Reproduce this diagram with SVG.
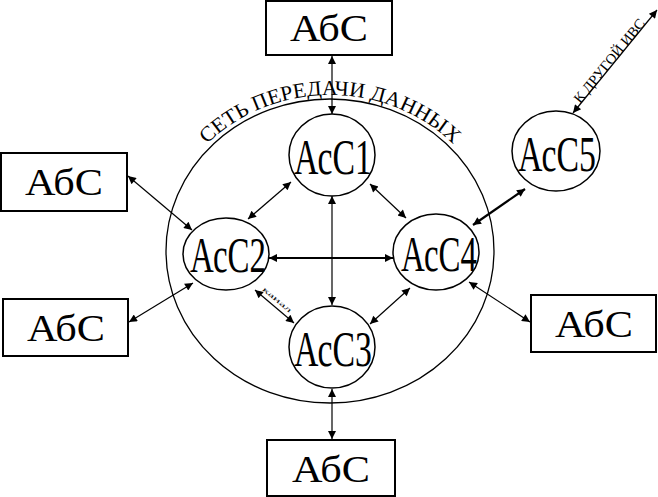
<svg xmlns="http://www.w3.org/2000/svg" width="658" height="497" viewBox="0 0 658 497">
<style>
.box{fill:#fff;stroke:#000;stroke-width:2}
.node{fill:#fff;stroke:#000;stroke-width:1.5}
.bt{font-family:"Liberation Serif","Times New Roman",serif;font-size:38px;fill:#000;text-anchor:middle}
.nt{font-family:"Liberation Serif","Times New Roman",serif;font-size:50px;fill:#000;text-anchor:middle}
.ln{stroke:#000;stroke-width:1.2;fill:none;marker-start:url(#a);marker-end:url(#a)}
.thick{stroke-width:2.2}
.lbl{font-family:"Liberation Serif","Times New Roman",serif;fill:#000}
</style>
<defs>
<marker id="a" viewBox="0 0 10 10" refX="10" refY="5" markerWidth="10" markerHeight="8" markerUnits="userSpaceOnUse" orient="auto-start-reverse">
<path d="M0,0 L10,5 L0,10 z" fill="#000"/>
</marker>
<path id="arc" d="M 161,251 A 169 156 0 0 1 499,251"/>
</defs>
<rect width="658" height="497" fill="#fff"/>
<g id="network">
<ellipse cx="330" cy="251" rx="164" ry="152" fill="none" stroke="#000" stroke-width="1.3"/>
<text class="lbl" font-size="21"><textPath href="#arc" startOffset="50%" text-anchor="middle" textLength="272" lengthAdjust="spacingAndGlyphs">СЕТЬ ПЕРЕДАЧИ ДАННЫХ</textPath></text>
</g>
<g id="connectors">
<line class="ln" x1="332" y1="56" x2="332" y2="114"/>
<line class="ln" x1="332" y1="196" x2="332" y2="305"/>
<line class="ln thick" x1="269" y1="258" x2="393" y2="258"/>
<line class="ln" x1="291" y1="182" x2="248" y2="219"/>
<line class="ln" x1="370" y1="184" x2="406" y2="218"/>
<line class="ln" x1="255" y1="290" x2="294" y2="323"/>
<line class="ln" x1="370" y1="324" x2="410" y2="288"/>
<line class="ln thick" x1="473" y1="225" x2="525" y2="189"/>
<line class="ln" x1="573" y1="113" x2="657" y2="10"/>
<line class="ln" x1="128" y1="176" x2="192" y2="230"/>
<line class="ln" x1="129" y1="322" x2="193" y2="283"/>
<line class="ln" x1="530" y1="322" x2="469" y2="282"/>
<line class="ln" x1="332" y1="439" x2="332" y2="389"/>
<text class="lbl" font-size="14" transform="translate(580,104) rotate(-50.8)" textLength="104" lengthAdjust="spacingAndGlyphs">К ДРУГОЙ ИВС</text>
<text class="lbl" font-size="7" transform="translate(262,290) rotate(40)" textLength="36" lengthAdjust="spacingAndGlyphs">канал</text>
</g>
<g id="abs-top"><rect class="box" x="266" y="1" width="126" height="54"/><text class="bt" x="329" y="41" textLength="78" lengthAdjust="spacingAndGlyphs">АбС</text></g>
<g id="abs-left-top"><rect class="box" x="1" y="153" width="126" height="58"/><text class="bt" x="64" y="195" textLength="78" lengthAdjust="spacingAndGlyphs">АбС</text></g>
<g id="abs-left-bottom"><rect class="box" x="3" y="299" width="125" height="57"/><text class="bt" x="66" y="341" textLength="78" lengthAdjust="spacingAndGlyphs">АбС</text></g>
<g id="abs-right"><rect class="box" x="531" y="295" width="125" height="57"/><text class="bt" x="594" y="337" textLength="78" lengthAdjust="spacingAndGlyphs">АбС</text></g>
<g id="abs-bottom"><rect class="box" x="267" y="440" width="128" height="56"/><text class="bt" x="331" y="482" textLength="78" lengthAdjust="spacingAndGlyphs">АбС</text></g>
<g id="acs1"><ellipse class="node" cx="332" cy="155" rx="43" ry="41"/><text class="nt" x="333" y="174" textLength="78" lengthAdjust="spacingAndGlyphs">АсС1</text></g>
<g id="acs2"><ellipse class="node" cx="226" cy="254" rx="43" ry="36"/><text class="nt" x="228" y="272" textLength="76" lengthAdjust="spacingAndGlyphs">АсС2</text></g>
<g id="acs3"><ellipse class="node" cx="332" cy="347" rx="43" ry="41"/><text class="nt" x="333" y="366" textLength="78" lengthAdjust="spacingAndGlyphs">АсС3</text></g>
<g id="acs4"><ellipse class="node" cx="436" cy="252" rx="43" ry="38"/><text class="nt" x="439" y="271" textLength="76" lengthAdjust="spacingAndGlyphs">АсС4</text></g>
<g id="acs5"><ellipse class="node" cx="556" cy="151" rx="44" ry="40"/><text class="nt" x="557" y="171" textLength="78" lengthAdjust="spacingAndGlyphs">АсС5</text></g>
</svg>
